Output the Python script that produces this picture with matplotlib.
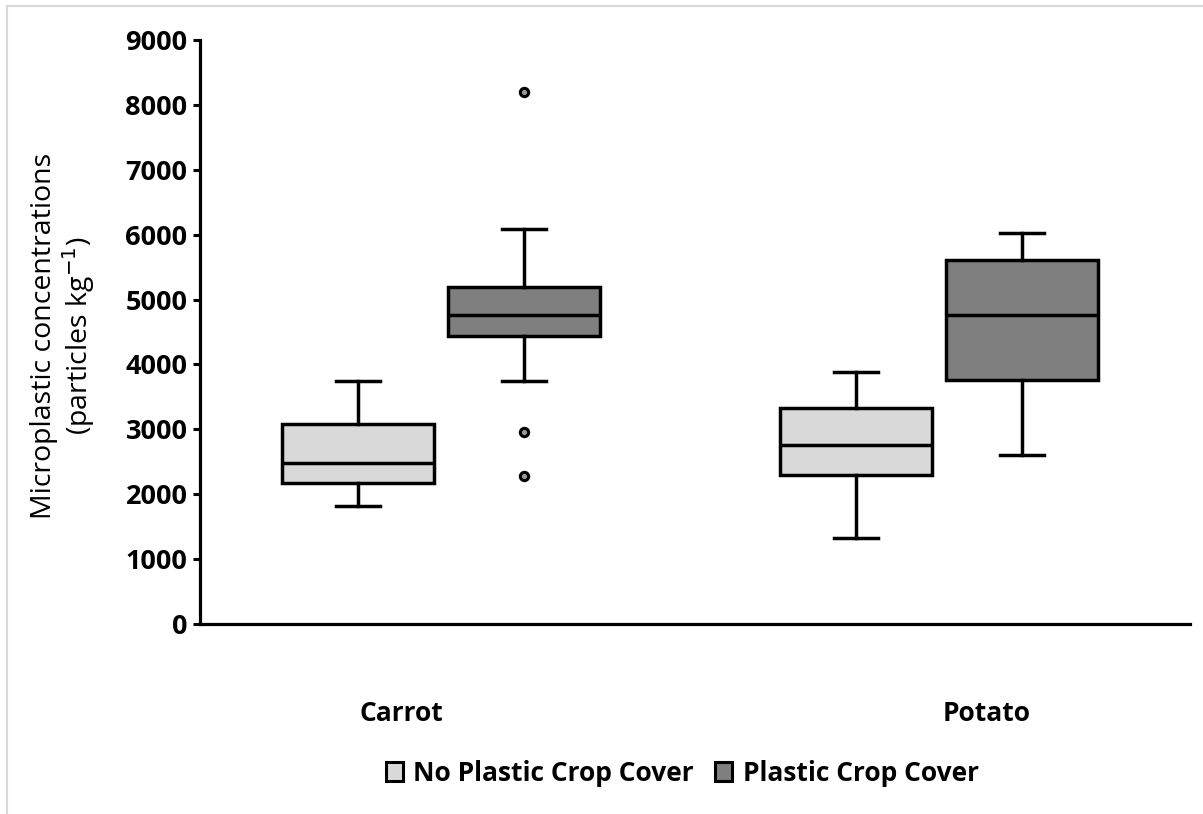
import matplotlib
matplotlib.use("Agg")
import matplotlib.pyplot as plt
from matplotlib.patches import Patch, Rectangle

plt.rcParams['font.family'] = ['Open Sans', 'DejaVu Sans']

# data (particles per kg)
crops = ["Carrot", "Potato"]
series = ["No Plastic Crop Cover", "Plastic Crop Cover"]
colors = ["#d9d9d9", "#7f7f7f"]

whislo = [[1820, 1320], [3750, 2600]]
q1 = [[2170, 2290], [4440, 3760]]
med = [[2480, 2760], [4760, 4760]]
q3 = [[3080, 3330], [5190, 5610]]
whishi = [[3750, 3880], [6080, 6020]]
fliers = [[[], []], [[8200, 2960, 2280], []]]

yticks = [0, 1000, 2000, 3000, 4000, 5000, 6000, 7000, 8000, 9000]

fig = plt.figure(figsize=(12.03, 8.14), dpi=100)
ax = fig.add_axes([0.1663, 0.2334, 0.8229, 0.7175])

group_pos = [1, 2]
offset = 0.1667
box_w = 0.305

for s in range(len(series)):
    stats = []
    for c in range(len(crops)):
        stats.append(dict(med=med[s][c], q1=q1[s][c], q3=q3[s][c],
                          whislo=whislo[s][c], whishi=whishi[s][c],
                          fliers=fliers[s][c]))
    pos = [p + (s * 2 - 1) * offset for p in group_pos]
    ax.bxp(stats, positions=pos, widths=box_w, patch_artist=True,
           showfliers=True, capwidths=0.088,
           boxprops=dict(facecolor=colors[s], edgecolor='black', linewidth=2.5),
           medianprops=dict(color='black', linewidth=2.5),
           whiskerprops=dict(color='black', linewidth=2.5),
           capprops=dict(color='black', linewidth=2.5),
           flierprops=dict(marker='o', markersize=6, markerfacecolor='#999999',
                           markeredgecolor='black', markeredgewidth=2.2))

ax.set_xlim(0.516, 2.504)
ax.set_ylim(0, 9000)
ax.set_yticks(yticks)
ax.set_yticklabels([str(v) for v in yticks], fontsize=19.5, fontweight='bold')
ax.set_xticks([0.92, 2.096])
ax.set_xticklabels(crops, fontsize=19, fontweight='bold')
ax.tick_params(axis='x', length=0, pad=55)
ax.tick_params(axis='y', direction='out', length=5, width=2.2, pad=4)

for side in ['top', 'right']:
    ax.spines[side].set_visible(False)
for side in ['left', 'bottom']:
    ax.spines[side].set_linewidth(2.3)

ax.set_ylabel("Microplastic concentrations\n(particles kg$^{\u22121}$)", fontsize=20.5,
              fontweight='medium', linespacing=1.08)
ax.yaxis.set_label_coords(-0.104, 0.493)

handles = [Patch(facecolor=colors[i], edgecolor='black', linewidth=2.2, label=series[i])
           for i in range(len(series))]
fig.legend(handles=handles, loc='center', bbox_to_anchor=(0.567, 0.05), ncol=2,
           frameon=False, prop=dict(size=19, weight='bold'), handlelength=0.65,
           handleheight=0.75, handletextpad=0.4, columnspacing=0.8)

# light frame around the chart area
fig.patches.append(Rectangle((0.006, -0.01), 1.1, 1.0025, transform=fig.transFigure,
                             fill=False, edgecolor='#d9d9d9', linewidth=1.5))

fig.savefig("out.png", dpi=100)
